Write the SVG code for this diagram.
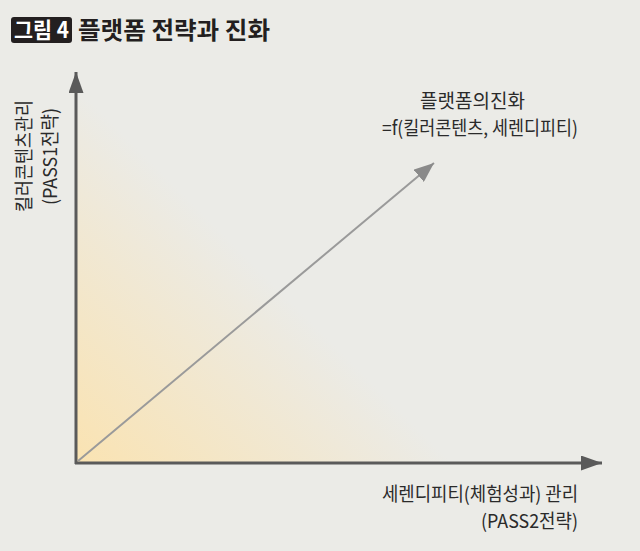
<svg xmlns="http://www.w3.org/2000/svg" width="640" height="551" viewBox="0 0 640 551">
<style>
.t{font-family:"Noto Sans CJK KR","Noto Sans",sans-serif;fill:#2a2a2a;}
.lbl{font-size:19px;}
</style>
<defs>
<linearGradient id="g" gradientUnits="userSpaceOnUse" x1="78" y1="462" x2="265" y2="275">
<stop offset="0" stop-color="#fae3b2"/>
<stop offset="1" stop-color="#ebebe7"/>
</linearGradient>
<marker id="ah" markerWidth="7" markerHeight="5" refX="7" refY="2.5" orient="auto" markerUnits="strokeWidth">
<path d="M0,0 L7,2.5 L0,5 Z" fill="#5a5a5a"/>
</marker>
<marker id="ah2" markerWidth="10" markerHeight="8" refX="10" refY="4" orient="auto" markerUnits="strokeWidth">
<path d="M0,0 L10,4 L0,8 Z" fill="#8a8a8a"/>
</marker>
</defs>
<rect width="640" height="551" fill="#ebebe7"/>
<rect x="77" y="100" width="370" height="362" fill="url(#g)"/>
<g id="title">
<rect x="11" y="17" width="61" height="26" rx="3" fill="#231f20"/>
<text x="14" y="38" textLength="55" lengthAdjust="spacingAndGlyphs" class="t" style="fill:#fff;font-size:22px;font-weight:bold">그림 4</text>
<text x="78" y="39" textLength="192" lengthAdjust="spacingAndGlyphs" class="t" style="font-size:24px;font-weight:bold;fill:#231f20">플랫폼 전략과 진화</text>
</g>
<g id="connectors">
<line x1="76" y1="464" x2="76" y2="72" stroke="#5a5a5a" stroke-width="3" marker-end="url(#ah)"/>
<line x1="75" y1="463" x2="602" y2="463" stroke="#5a5a5a" stroke-width="3" marker-end="url(#ah)"/>
<line x1="78" y1="461" x2="434" y2="163" stroke="#9a9a9a" stroke-width="2" marker-end="url(#ah2)"/>
</g>
<g id="y-label">
<text transform="translate(31,212) rotate(-90)" textLength="112" lengthAdjust="spacingAndGlyphs" class="t lbl">킬러콘텐츠관리</text>
<text transform="translate(57,205) rotate(-90)" textLength="97" lengthAdjust="spacingAndGlyphs" class="t lbl">(PASS1전략)</text>
</g>
<g id="diag-label">
<text x="420" y="108" textLength="105" lengthAdjust="spacingAndGlyphs" class="t lbl">플랫폼의진화</text>
<text x="382" y="135" textLength="196" lengthAdjust="spacingAndGlyphs" class="t lbl">=f(킬러콘텐츠, 세렌디피티)</text>
</g>
<g id="x-label">
<text x="382" y="501" textLength="196" lengthAdjust="spacingAndGlyphs" class="t lbl">세렌디피티(체험성과) 관리</text>
<text x="481" y="528" textLength="97" lengthAdjust="spacingAndGlyphs" class="t lbl">(PASS2전략)</text>
</g>
</svg>
